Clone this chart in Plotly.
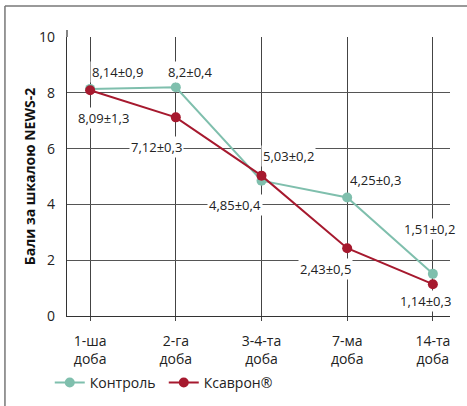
import plotly.graph_objects as go

categories = ["1-ша<br>доба", "2-га<br>доба", "3-4-та<br>доба", "7-ма<br>доба", "14-та<br>доба"]
control = [8.14, 8.2, 4.85, 4.25, 1.51]
control_labels = ["8,14±0,9", "8,2±0,4", "4,85±0,4", "4,25±0,3", "1,51±0,2"]
ksavron = [8.09, 7.12, 5.03, 2.43, 1.14]
ksavron_labels = ["8,09±1,3", "7,12±0,3", "5,03±0,2", "2,43±0,5", "1,14±0,3"]

# label offsets (pixels) relative to their points
control_off = [(27, 17), (14, 15), (-27, -24), (28, 17), (-3, 45)]
ksavron_off = [(13, -28), (-19, -30), (27, 20), (-22, -21), (-7, -17)]

TEAL = "#7fbfad"
RED = "#a6192e"
FONT = "Open Sans"

x = list(range(len(categories)))

fig = go.Figure()
fig.add_trace(go.Scatter(x=x, y=control, mode="lines+markers", name="Контроль",
                         line=dict(color=TEAL, width=2), marker=dict(color=TEAL, size=10)))
fig.add_trace(go.Scatter(x=x, y=ksavron, mode="lines+markers", name="Ксаврон®",
                         line=dict(color=RED, width=2), marker=dict(color=RED, size=10)))

annotations = []
for xi, yi, lab, (dx, dy) in zip(x, control, control_labels, control_off):
    annotations.append(dict(x=xi, y=yi, text=lab, showarrow=False, xshift=dx, yshift=dy,
                            bgcolor="white", borderpad=1, font=dict(size=13, color="#222", family=FONT)))
for xi, yi, lab, (dx, dy) in zip(x, ksavron, ksavron_labels, ksavron_off):
    annotations.append(dict(x=xi, y=yi, text=lab, showarrow=False, xshift=dx, yshift=dy,
                            bgcolor="white", borderpad=1, font=dict(size=13, color="#222", family=FONT)))

fig.update_layout(
    width=467, height=406,
    margin=dict(l=67, r=17, t=37, b=90, autoexpand=False),
    paper_bgcolor="white", plot_bgcolor="white",
    font=dict(family=FONT, size=14, color="#222"),
    showlegend=True,
    legend=dict(orientation="h", x=-0.045, y=-0.24, xanchor="left", yanchor="middle",
                font=dict(size=14, family=FONT, color="#222"), bgcolor="rgba(0,0,0,0)",
                itemwidth=30, tracegroupgap=0, entrywidth=69, entrywidthmode="pixels"),
    annotations=annotations,
    xaxis=dict(range=[-0.27, 4.2], tickmode="array", tickvals=x, ticktext=categories,
               showgrid=True, gridcolor="#444", gridwidth=1.2, automargin=False,
               ticks="outside", ticklen=4, tickcolor="#444", tickwidth=1.2,
               ticklabelstandoff=8,
               showline=True, linecolor="#333", linewidth=1.2, zeroline=False,
               tickfont=dict(size=14, family=FONT, color="#222")),
    yaxis=dict(range=[0, 10], tickvals=[0, 2, 4, 6, 8, 10],
               showgrid=True, gridcolor="#555", gridwidth=1.2, automargin=False,
               showline=True, linecolor="#333", linewidth=1.2, zeroline=False,
               ticks="", ticklabelstandoff=8,
               tickfont=dict(size=14, family=FONT, color="#222"),
               title=dict(text="<b>Бали за шкалою NEWS-2</b>", standoff=0,
                          font=dict(size=14, family=FONT, color="#111"))),
    shapes=[
        dict(type="line", xref="paper", yref="paper", x0=0, x1=0, y0=1, y1=1.025,
             line=dict(color="#333", width=1.2)),
        dict(type="line", xref="paper", yref="paper", x0=-0.162, x1=-0.162, y0=1.111, y1=-0.35,
             line=dict(color="#777", width=1.5)),
        dict(type="line", xref="paper", yref="paper", x0=-0.162, x1=1.1, y0=1.111, y1=1.111,
             line=dict(color="#777", width=1.5)),
    ],
)

fig.write_html("out.html", config={"displayModeBar": False},
               post_script="document.body.style.margin='0';document.body.style.overflow='hidden';")
